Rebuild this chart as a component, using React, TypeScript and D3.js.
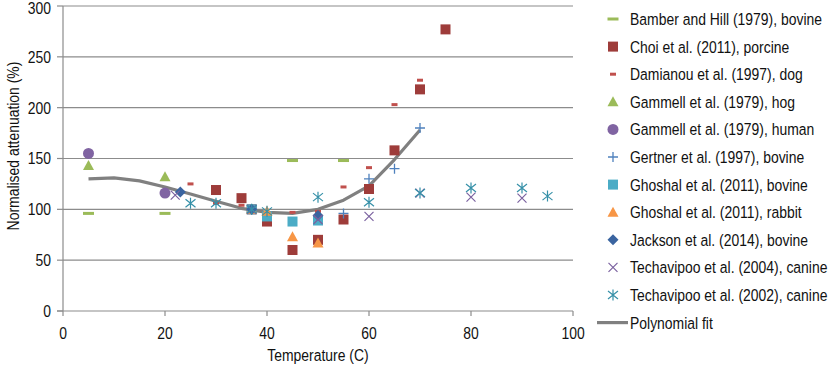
import * as d3 from "d3";

// temperature (C) vs normalised attenuation (%)
const bamberX = [5, 20, 45, 55];
const bamberY = [96, 96, 148, 148];
const choiX = [30, 35, 37, 40, 45, 50, 55, 60, 65, 70, 75];
const choiY = [119, 111, 100, 88, 60, 70, 90, 120, 158, 218, 277];
const damianouX = [25, 30, 35, 45, 50, 55, 60, 65, 70];
const damianouY = [125, 106, 104, 97, 98, 122, 141, 203, 227];
const hogX = [5, 20];
const hogY = [143, 132];
const humanX = [5, 20];
const humanY = [155, 116];
const gertnerX = [55, 60, 65, 70];
const gertnerY = [96, 130, 140, 180];
const ghoshalBovX = [37, 40, 45, 50];
const ghoshalBovY = [100, 93, 88, 89];
const ghoshalRabX = [37, 40, 45, 50];
const ghoshalRabY = [100, 98, 73, 67];
const jacksonX = [23, 37, 50];
const jacksonY = [117, 100, 94];
const tech04X = [22, 37, 50, 60, 70, 80, 90];
const tech04Y = [114, 100, 90, 93, 116, 112, 111];
const tech02X = [25, 30, 37, 40, 50, 60, 70, 80, 90, 95];
const tech02Y = [106, 106, 100, 98, 112, 107, 116, 121, 121, 113];
const fitX = [5, 10, 15, 20, 25, 30, 35, 40, 45, 50, 55, 60, 65, 70];
const fitY = [130, 131, 128, 122, 115, 108, 101, 97, 96, 100, 109, 123, 149, 178];

const xTicks = [0, 20, 40, 60, 80, 100];
const yTicks = [0, 50, 100, 150, 200, 250, 300];

type Marker = "dash" | "square" | "smalldash" | "triangle" | "circle" | "plus" | "diamond" | "x" | "star";

const series = [
  { name: "Bamber and Hill (1979), bovine", xs: bamberX, ys: bamberY, marker: "dash", color: "#9bbb59" },
  { name: "Choi et al. (2011), porcine", xs: choiX, ys: choiY, marker: "square", color: "#9e3c3a" },
  { name: "Damianou et al. (1997), dog", xs: damianouX, ys: damianouY, marker: "smalldash", color: "#c0504d" },
  { name: "Gammell et al. (1979), hog", xs: hogX, ys: hogY, marker: "triangle", color: "#9bbb59" },
  { name: "Gammell et al. (1979), human", xs: humanX, ys: humanY, marker: "circle", color: "#8064a2" },
  { name: "Gertner et al. (1997), bovine", xs: gertnerX, ys: gertnerY, marker: "plus", color: "#4f81bd" },
  { name: "Ghoshal et al. (2011), bovine", xs: ghoshalBovX, ys: ghoshalBovY, marker: "square", color: "#4bacc6" },
  { name: "Ghoshal et al. (2011), rabbit", xs: ghoshalRabX, ys: ghoshalRabY, marker: "triangle", color: "#f79646" },
  { name: "Jackson et al. (2014), bovine", xs: jacksonX, ys: jacksonY, marker: "diamond", color: "#3a64a0" },
  { name: "Techavipoo et al. (2004), canine", xs: tech04X, ys: tech04Y, marker: "x", color: "#7b62a0" },
  { name: "Techavipoo et al. (2002), canine", xs: tech02X, ys: tech02Y, marker: "star", color: "#3590a8" },
];

const W = 830;
const H = 366;
const font = "'Liberation Sans', Arial, sans-serif";
const SQ = 0.82; // narrow the glyphs like the original condensed face

function Label({ x, y, anchor = "start", rotate = 0, children }: any) {
  return (
    <text
      transform={`translate(${x},${y}) rotate(${rotate}) scale(${SQ},1)`}
      dy="0.35em"
      textAnchor={anchor}
      fontSize={17}
      fill="#111"
    >
      {children}
    </text>
  );
}

function MarkerShape({ m, color }: { m: Marker; color: string }) {
  switch (m) {
    case "dash":
      return <rect x={-5.5} y={-1.5} width={11} height={3} fill={color} />;
    case "smalldash":
      return <rect x={-3} y={-1.5} width={6} height={3} fill={color} />;
    case "square":
      return <rect x={-5} y={-5} width={10} height={10} fill={color} />;
    case "triangle":
      return <path d="M0,-5.5L5.5,4.5L-5.5,4.5Z" fill={color} />;
    case "circle":
      return <circle r={5.5} fill={color} />;
    case "diamond":
      return <path d="M0,-5.5L5.5,0L0,5.5L-5.5,0Z" fill={color} />;
    case "plus":
      return <path d="M-5,0H5M0,-5V5" stroke={color} strokeWidth={1.3} fill="none" />;
    case "x":
      return <path d="M-4.5,-4.5L4.5,4.5M-4.5,4.5L4.5,-4.5" stroke={color} strokeWidth={1.2} fill="none" />;
    case "star":
      return <path d="M0,-5.5V5.5M-5,-4L5,4M-5,4L5,-4" stroke={color} strokeWidth={1.2} fill="none" />;
  }
  return null;
}

export default function App() {
  const x = d3.scaleLinear().domain([0, 100]).range([63, 573]);
  const y = d3.scaleLinear().domain([0, 300]).range([311, 6]);
  const line = d3
    .line<number>()
    .x((d, i) => x(fitX[i]))
    .y((d) => y(d));

  const legendY = (i: number) => 19 + i * 27.6;

  return (
    <div style={{ position: "absolute", left: 0, top: 0 }}>
      <svg width={W} height={H} style={{ display: "block", background: "#fff", fontFamily: font }}>
        {/* grid */}
        {yTicks.slice(1).map((t) => (
          <line key={t} x1={63} x2={573} y1={y(t)} y2={y(t)} stroke="#8c8c8c" strokeWidth={1.2} />
        ))}
        {/* y axis */}
        <line x1={63} x2={63} y1={y(300)} y2={y(0)} stroke="#8c8c8c" strokeWidth={1.2} />
        {yTicks.map((t) => (
          <g key={t}>
            <line x1={57} x2={63} y1={y(t)} y2={y(t)} stroke="#8c8c8c" strokeWidth={1.2} />
            <Label x={51} y={Math.max(y(t), 8.5)} anchor="end">
              {t}
            </Label>
          </g>
        ))}
        {/* x axis */}
        <line x1={57} x2={573} y1={y(0)} y2={y(0)} stroke="#8c8c8c" strokeWidth={1.2} />
        {xTicks.map((t) => (
          <g key={t}>
            <line x1={x(t)} x2={x(t)} y1={y(0)} y2={y(0) + 5} stroke="#8c8c8c" strokeWidth={1.2} />
            <Label x={x(t)} y={333} anchor="middle">
              {t}
            </Label>
          </g>
        ))}
        <Label x={318} y={355} anchor="middle">
          Temperature (C)
        </Label>
        <Label x={13} y={146} anchor="middle" rotate={-90}>
          Normalised attenuation (%)
        </Label>

        {/* fit */}
        <path d={line(fitY) || ""} fill="none" stroke="#808080" strokeWidth={3.2} strokeLinejoin="round" />

        {/* points */}
        {series.map((s) => (
          <g key={s.name}>
            {s.xs.map((v, i) => (
              <g key={i} transform={`translate(${x(v)},${y(s.ys[i])})`}>
                <MarkerShape m={s.marker as Marker} color={s.color} />
              </g>
            ))}
          </g>
        ))}

        {/* legend */}
        {series.map((s, i) => (
          <g key={s.name}>
            <g transform={`translate(613,${legendY(i)})`}>
              <MarkerShape m={s.marker as Marker} color={s.color} />
            </g>
            <Label x={630} y={legendY(i)}>
              {s.name}
            </Label>
          </g>
        ))}
        <line x1={597} x2={628} y1={legendY(11)} y2={legendY(11)} stroke="#808080" strokeWidth={3.2} />
        <Label x={630} y={legendY(11)}>
          Polynomial fit
        </Label>
      </svg>
    </div>
  );
}
